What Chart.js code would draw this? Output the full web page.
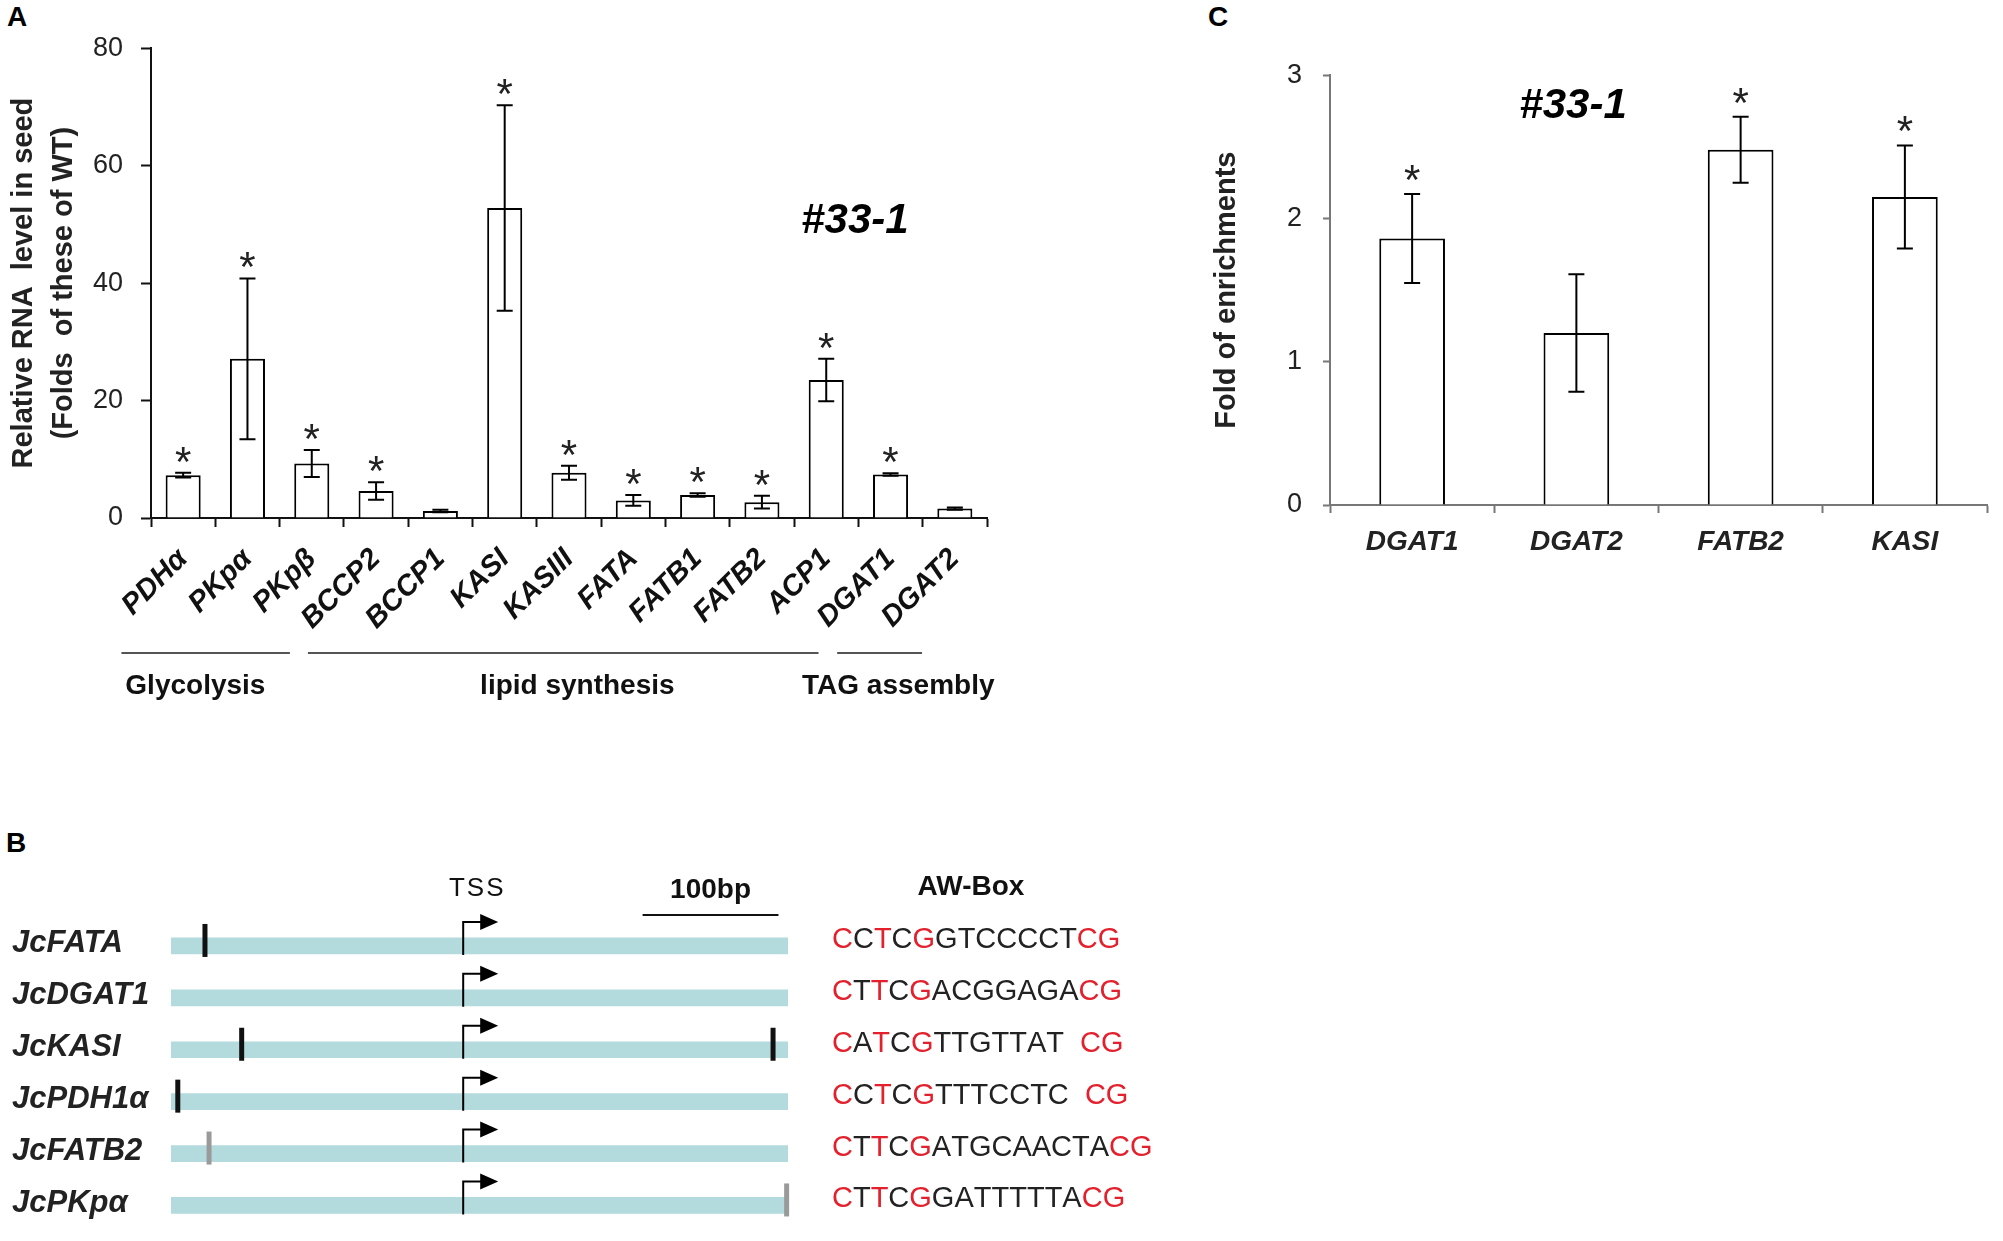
<!DOCTYPE html>
<html>
<head>
<meta charset="utf-8">
<script src="https://cdn.jsdelivr.net/npm/chart.js@4.4.1/dist/chart.umd.min.js"></script>
<style>
  html, body { margin: 0; padding: 0; background: #fff; }
  body { width: 2003px; height: 1241px; position: relative; overflow: hidden; }
  .box { position: absolute; }
  .tag { position: absolute; font: bold 28px "Liberation Sans", Arial, sans-serif; color: #000; line-height: 32px; }
</style>
</head>
<body>
<div class="tag" style="left:7px;top:1px">A</div>
<div class="tag" style="left:1208px;top:1px">C</div>
<div class="tag" style="left:6px;top:827px">B</div>
<div class="box" style="left:0;top:14px;width:1000px;height:714px"><canvas id="chartA"></canvas></div>
<div class="box" style="left:1200px;top:38px;width:800px;height:577px"><canvas id="chartC"></canvas></div>
<div class="box" style="left:0;top:860px;width:1200px;height:390px"><canvas id="chartB"></canvas></div>
<script>
var FONT = '"Liberation Sans", Arial, sans-serif';

// A: 종자 내 상대 RNA 수준
const genesA = ['PDHα', 'PKpα', 'PKpβ', 'BCCP2', 'BCCP1', 'KASI', 'KASIII', 'FATA', 'FATB1', 'FATB2', 'ACP1', 'DGAT1', 'DGAT2'];
const levelA = [7.3, 27.1, 9.3, 4.6, 1.2, 52.8, 7.7, 3.0, 3.9, 2.7, 23.5, 7.4, 1.6];
const errA = [0.4, 13.7, 2.3, 1.5, 0.2, 17.5, 1.2, 0.9, 0.3, 1.1, 3.6, 0.2, 0.2];
const starA = [1, 1, 1, 1, 0, 1, 1, 1, 1, 1, 1, 1, 0];
const groupNames = ['Glycolysis', 'lipid synthesis', 'TAG assembly'];
const groupFirst = [0, 3, 11];
const groupLast = [2, 10, 12];

// C: ChIP enrichment
const genesC = ['DGAT1', 'DGAT2', 'FATB2', 'KASI'];
const foldC = [1.86, 1.2, 2.48, 2.15];
const errC = [0.31, 0.41, 0.23, 0.36];
const starC = [1, 0, 1, 1];

const lineName = '#33-1';

// B: promoter map (bp relative to TSS)
const promoters = ['JcFATA', 'JcDGAT1', 'JcKASI', 'JcPDH1α', 'JcFATB2', 'JcPKpα'];
const promStart = [-215, -215, -215, -215, -215, -215];
const promEnd = [239, 239, 239, 239, 239, 239];
const awSites = [[-190], [], [-163, 228], [-210], [-187], [238]];
const awTone = ['dark', 'dark', 'dark', 'dark', 'light', 'light'];
const awSeq = ['CCTCGGTCCCCTCG', 'CTTCGACGGAGACG', 'CATCGTTGTTAT  CG', 'CCTCGTTTCCTC  CG', 'CTTCGATGCAACTACG', 'CTTCGGATTTTTACG'];
const awMark = ['R.R.R.......RR', 'R.R.R.......RR', 'R.R.R.........RR', 'R.R.R.........RR', 'R.R.R.........RR', 'R.R.R........RR'];
const scaleBar = [132, 232];

Chart.defaults.font.family = FONT;
Chart.defaults.color = '#000';
Chart.defaults.animation = false;

// 오차 막대 + 별표 + 라인 이름
function errorBarPlugin(id, err, star, starDy, notePos) {
    return {
        id: id,
        afterDatasetsDraw(chart) {
            let ctx = chart.ctx, y = chart.scales.y;
            let vals = chart.data.datasets[0].data;
            ctx.save();
            ctx.strokeStyle = '#000';
            ctx.lineWidth = 2;
            chart.getDatasetMeta(0).data.forEach((bar, i) => {
                let top = y.getPixelForValue(vals[i] + err[i]);
                let bot = y.getPixelForValue(vals[i] - err[i]);
                ctx.beginPath();
                ctx.moveTo(bar.x, top); ctx.lineTo(bar.x, bot);
                ctx.moveTo(bar.x - 8, top); ctx.lineTo(bar.x + 8, top);
                ctx.moveTo(bar.x - 8, bot); ctx.lineTo(bar.x + 8, bot);
                ctx.stroke();
                if (star[i]) {
                    ctx.font = '42px ' + FONT;
                    ctx.fillStyle = '#222';
                    ctx.textAlign = 'center';
                    ctx.textBaseline = 'alphabetic';
                    ctx.fillText('*', bar.x, top + starDy);
                }
            });
            let a = chart.chartArea;
            ctx.font = 'bold italic 42px ' + FONT;
            ctx.fillStyle = '#000';
            ctx.textAlign = 'center';
            ctx.textBaseline = 'middle';
            ctx.fillText(lineName, a.left + notePos[0] * (a.right - a.left), a.top + notePos[1] * (a.bottom - a.top));
            ctx.restore();
        }
    };
}

// A 아래 그룹 표시
const groupPlugin = {
    id: 'groups',
    afterDraw(chart) {
        let ctx = chart.ctx, x = chart.scales.x, a = chart.chartArea;
        let span = [[-0.96, 1.66], [1.94, 9.88], [10.17, 11.49]];
        let mid = [0.19, 6.13, 11.12];
        ctx.save();
        ctx.strokeStyle = '#555';
        ctx.lineWidth = 2;
        ctx.fillStyle = '#111';
        ctx.font = 'bold 28px ' + FONT;
        ctx.textAlign = 'center';
        ctx.textBaseline = 'middle';
        groupNames.forEach((g, i) => {
            let ly = a.bottom + 135;
            ctx.beginPath();
            ctx.moveTo(x.getPixelForValue(span[i][0]), ly);
            ctx.lineTo(x.getPixelForValue(span[i][1]), ly);
            ctx.stroke();
            ctx.fillText(g, x.getPixelForValue(mid[i]), a.bottom + 168);
        });
        ctx.restore();
    }
};

function axisOpts(width, color, tickLen, pad) {
    return {
        afterFit: s => { s.width = width; },
        border: { display: true, color: color, width: 2 },
        grid: { drawOnChartArea: false, drawTicks: true, tickLength: tickLen, tickColor: color, tickWidth: 2 },
        ticks: { font: { size: 27 }, color: '#222', padding: pad }
    };
}

// A 차트
let yA = axisOpts(151, '#111', 10, 18);
yA.min = 0; yA.max = 80;
yA.ticks.stepSize = 20;
yA.title = {
    display: true,
    text: ['Relative RNA  level in seed', '(Folds  of these of WT)'],
    font: { size: 29, weight: 'bold', lineHeight: 1.38 },
    color: '#222',
    padding: { top: 4, bottom: 0 }
};

new Chart(document.getElementById('chartA'), {
    type: 'bar',
    data: {
        labels: genesA,
        datasets: [{ data: levelA, backgroundColor: '#fff', borderColor: '#000', borderWidth: 2, barPercentage: 0.545, categoryPercentage: 1 }]
    },
    options: {
        responsive: true,
        maintainAspectRatio: false,
        layout: { padding: { top: 0, right: 13, left: 0, bottom: 0 } },
        scales: {
            x: {
                afterFit: s => { s.height = 210; },
                border: { display: true, color: '#111', width: 2 },
                grid: { drawOnChartArea: false, tickLength: 9, tickColor: '#111', tickWidth: 2 },
                ticks: { font: { size: 29, weight: 'bold', style: 'italic' }, color: '#111', minRotation: 45, maxRotation: 45, autoSkip: false, padding: 15 }
            },
            y: yA
        },
        plugins: { legend: { display: false }, tooltip: { enabled: false } }
    },
    plugins: [errorBarPlugin('errA', errA, starA, 3, [0.842, 0.368]), groupPlugin]
});

// C 차트
let yC = axisOpts(130, '#777', 7, 21);
yC.min = 0; yC.max = 3;
yC.ticks.stepSize = 1;
yC.title = {
    display: true,
    text: 'Fold of enrichments',
    font: { size: 29, weight: 'bold', lineHeight: 1.2 },
    color: '#222',
    padding: { top: 10, bottom: 0 }
};

new Chart(document.getElementById('chartC'), {
    type: 'bar',
    data: {
        labels: genesC,
        datasets: [{ data: foldC, backgroundColor: '#fff', borderColor: '#000', borderWidth: 2, barPercentage: 0.4, categoryPercentage: 1 }]
    },
    options: {
        responsive: true,
        maintainAspectRatio: false,
        layout: { padding: { top: 0, right: 13, left: 0, bottom: 0 } },
        scales: {
            x: {
                afterFit: s => { s.height = 110; },
                border: { display: true, color: '#777', width: 2 },
                grid: { drawOnChartArea: false, tickLength: 8, tickColor: '#777', tickWidth: 2 },
                ticks: { font: { size: 28, weight: 'bold', style: 'italic' }, color: '#222', maxRotation: 0, padding: 12 }
            },
            y: yC
        },
        plugins: { legend: { display: false }, tooltip: { enabled: false } }
    },
    plugins: [errorBarPlugin('errC', errC, starC, 0, [0.37, 0.072])]
});

// B: 프로모터 그림
const promoterPlugin = {
    id: 'promoter',
    afterDatasetsDraw(chart) {
        let ctx = chart.ctx, x = chart.scales.x, y = chart.scales.y, a = chart.chartArea;
        let tx = x.getPixelForValue(0);
        ctx.save();
        promoters.forEach((p, i) => {
            let cy = y.getPixelForValue(i);
            ctx.lineWidth = 5;
            awSites[i].forEach(s => {
                ctx.strokeStyle = awTone[i] === 'dark' ? '#111' : '#9a9a9a';
                let sx = x.getPixelForValue(s);
                ctx.beginPath();
                ctx.moveTo(sx, cy - 22);
                ctx.lineTo(sx, cy + 11);
                ctx.stroke();
            });
            ctx.strokeStyle = '#000';
            ctx.lineWidth = 2;
            ctx.beginPath();
            ctx.moveTo(tx, cy + 9);
            ctx.lineTo(tx, cy - 24);
            ctx.lineTo(tx + 19, cy - 24);
            ctx.stroke();
            ctx.fillStyle = '#000';
            ctx.beginPath();
            ctx.moveTo(tx + 17, cy - 32);
            ctx.lineTo(tx + 35, cy - 24);
            ctx.lineTo(tx + 17, cy - 16);
            ctx.closePath();
            ctx.fill();

            // AW-box 서열
            ctx.font = '29px ' + FONT;
            ctx.textAlign = 'left';
            ctx.textBaseline = 'alphabetic';
            let sx = a.right + 44;
            for (let k = 0; k < awSeq[i].length; k++) {
                let ch = awSeq[i][k];
                ctx.fillStyle = awMark[i][k] === 'R' ? '#e3202c' : '#222';
                ctx.fillText(ch, sx, cy + 2);
                sx += ctx.measureText(ch).width;
            }
        });

        ctx.fillStyle = '#111';
        ctx.textAlign = 'center';
        ctx.textBaseline = 'middle';
        ctx.font = '26px ' + FONT;
        ctx.letterSpacing = '2px';
        ctx.fillText('TSS', tx + 14, a.top - 31);
        ctx.letterSpacing = '0px';
        ctx.font = 'bold 28px ' + FONT;
        let b0 = x.getPixelForValue(scaleBar[0]), b1 = x.getPixelForValue(scaleBar[1]);
        ctx.fillText('100bp', (b0 + b1) / 2, a.top - 30);
        ctx.fillText('AW-Box', a.right + 183, a.top - 33);
        ctx.strokeStyle = '#111';
        ctx.lineWidth = 2;
        ctx.beginPath();
        ctx.moveTo(b0, a.top - 5);
        ctx.lineTo(b1, a.top - 5);
        ctx.stroke();
        ctx.restore();
    }
};

new Chart(document.getElementById('chartB'), {
    type: 'bar',
    data: {
        labels: promoters,
        datasets: [{
            data: promStart.map((s, i) => [s, promEnd[i]]),
            backgroundColor: '#b3dbde',
            borderWidth: 0,
            barThickness: 16
        }]
    },
    options: {
        indexAxis: 'y',
        responsive: true,
        maintainAspectRatio: false,
        layout: { padding: { top: 60, right: 412, left: 12, bottom: 0 } },
        scales: {
            x: { type: 'linear', display: false, min: -215, max: 239 },
            y: {
                afterFit: s => { s.width = 159; },
                border: { display: false },
                grid: { display: false },
                ticks: { font: { size: 31, weight: 'bold', style: 'italic' }, color: '#222', crossAlign: 'far', labelOffset: -2, padding: 0 }
            }
        },
        plugins: { legend: { display: false }, tooltip: { enabled: false } }
    },
    plugins: [promoterPlugin]
});
</script>
</body>
</html>
